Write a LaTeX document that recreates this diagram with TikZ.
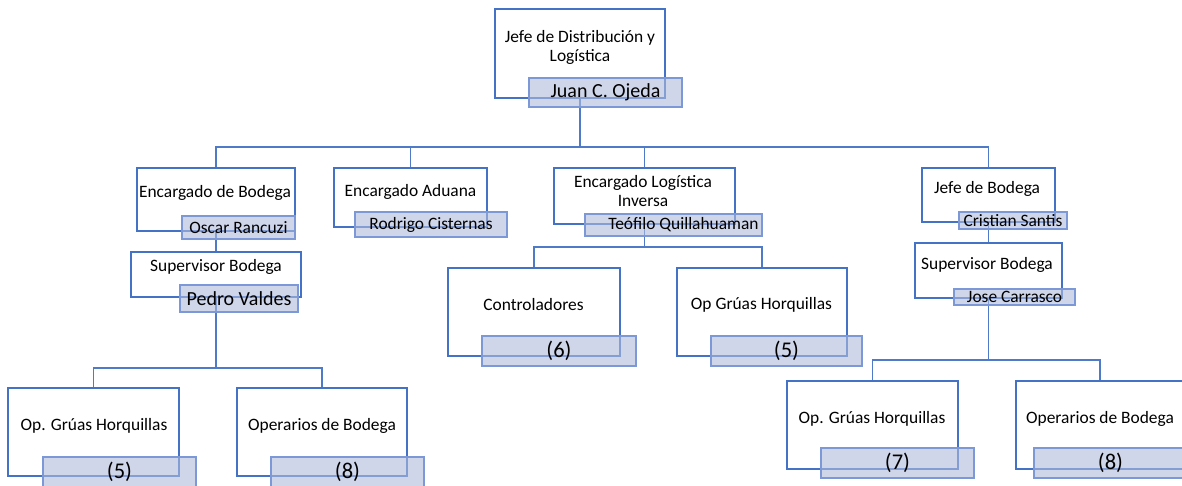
\documentclass[tikz,border=0pt]{standalone}
\usepackage{fontspec}
\setmainfont{Carlito}
\definecolor{boxblue}{HTML}{4472C4}
\definecolor{lineblue}{HTML}{4F7AC8}
\definecolor{tagblue}{HTML}{7D98D6}
\definecolor{tagfill}{HTML}{AFBBDC}
\begin{document}
\begin{tikzpicture}[x=1pt,y=-1pt]
	\tikzstyle{none}=[inner sep=0pt]
	\tikzstyle{box}=[draw=boxblue,fill=white,line width=2.400,inner sep=0pt]
	\tikzstyle{heading}=[inner sep=0pt,align=center,font=\fontsize{17.4}{19.5}\selectfont]
	\tikzstyle{tag}=[draw=tagblue,fill=tagfill,fill opacity=0.6,text opacity=1,line width=1.400,inner sep=0pt,font=\fontsize{17.4}{19.5}\selectfont]
	\tikzstyle{bigtag}=[style=tag,font=\fontsize{20}{24}\selectfont]
	\tikzstyle{counttag}=[style=tag,font=\fontsize{22.5}{26}\selectfont]
	\tikzstyle{link}=[-,draw=lineblue,line width=1.800]
	\useasboundingbox (0, 0) rectangle (1182, 485);
		\node [style=box, minimum width=170, minimum height=89] (0) at (580, 53.5) {};
		\node [style=heading] (1) at (580, 47.5) {Jefe de Distribución y\\Logística};
		\node [style=box, minimum width=158, minimum height=63] (2) at (216, 199.5) {};
		\node [style=heading] (3) at (215, 193) {Encargado de Bodega};
		\node [style=box, minimum width=153, minimum height=59] (4) at (410.5, 197.5) {};
		\node [style=heading] (5) at (410.5, 192) {Encargado Aduana};
		\node [style=box, minimum width=181, minimum height=56] (6) at (644.5, 196) {};
		\node [style=heading] (7) at (643, 191) {Encargado Logística\\Inversa};
		\node [style=box, minimum width=133, minimum height=54] (8) at (988.5, 195) {};
		\node [style=heading] (9) at (987, 189) {Jefe de Bodega};
		\node [style=box, minimum width=170, minimum height=45] (10) at (216, 274.5) {};
		\node [style=heading] (11) at (216, 267) {Supervisor Bodega};
		\node [style=box, minimum width=147, minimum height=55] (12) at (988.5, 270.5) {};
		\node [style=heading] (13) at (987, 265) {Supervisor Bodega};
		\node [style=box, minimum width=171, minimum height=88] (14) at (93.5, 432) {};
		\node [style=heading] (15) at (94, 426) {Op. Grúas Horquillas};
		\node [style=box, minimum width=170, minimum height=88] (16) at (322, 432) {};
		\node [style=heading] (17) at (322, 426) {Operarios de Bodega};
		\node [style=box, minimum width=172, minimum height=88] (18) at (534, 312) {};
		\node [style=heading] (19) at (533.5, 305) {Controladores};
		\node [style=box, minimum width=170, minimum height=88] (20) at (762, 312) {};
		\node [style=heading] (21) at (761.5, 305) {Op Grúas Horquillas};
		\node [style=box, minimum width=171, minimum height=88] (22) at (872.5, 425) {};
		\node [style=heading] (23) at (872, 419) {Op. Grúas Horquillas};
		\node [style=box, minimum width=168, minimum height=88] (24) at (1100, 425) {};
		\node [style=heading] (25) at (1100, 419) {Operarios de Bodega};
		\node [style=none] (26) at (580, 147) {};
		\node [style=none] (27) at (216, 368) {};
		\node [style=none] (28) at (644.5, 247) {};
		\node [style=none] (29) at (988.5, 360) {};

		\draw [style=link] (0.south) to (26.center);
		\draw [style=link] (26.center) -| (2.north);
		\draw [style=link] (26.center) -| (4.north);
		\draw [style=link] (26.center) -| (6.north);
		\draw [style=link] (26.center) -| (8.north);
		\draw [style=link] (2.south) to (10.north);
		\draw [style=link] (10.south) to (27.center);
		\draw [style=link] (27.center) -| (14.north);
		\draw [style=link] (27.center) -| (16.north);
		\draw [style=link] (6.south) to (28.center);
		\draw [style=link] (28.center) -| (18.north);
		\draw [style=link] (28.center) -| (20.north);
		\draw [style=link] (8.south) to (12.north);
		\draw [style=link] (12.south) to (29.center);
		\draw [style=link] (29.center) -| (22.north);
		\draw [style=link] (29.center) -| (24.north);

		\node [style=bigtag, minimum width=153, minimum height=29] (30) at (605.5, 92.5) {Juan C. Ojeda};
		\node [style=tag, minimum width=113, minimum height=23] (31) at (238.5, 227.5) {Oscar Rancuzi};
		\node [style=tag, minimum width=152, minimum height=25] (32) at (431, 224.5) {Rodrigo Cisternas};
		\node [style=tag, minimum width=177, minimum height=22] (33) at (673.5, 225) {\hspace*{20pt}Teófilo Quillahuaman};
		\node [style=tag, minimum width=108, minimum height=17] (34) at (1013, 220.5) {Cristian Santis};
		\node [style=bigtag, minimum width=118, minimum height=27] (35) at (239, 298.5) {Pedro Valdes};
		\node [style=tag, minimum width=121, minimum height=16] (36) at (1014.5, 297) {Jose Carrasco};
		\node [style=counttag, minimum width=153, minimum height=30] (37) at (119.5, 472) {(5)};
		\node [style=counttag, minimum width=153, minimum height=30] (38) at (347.5, 472) {(8)};
		\node [style=counttag, minimum width=154, minimum height=30] (39) at (559, 351) {(6)};
		\node [style=counttag, minimum width=151, minimum height=30] (40) at (786.5, 351) {(5)};
		\node [style=counttag, minimum width=153, minimum height=30] (41) at (897.5, 463) {(7)};
		\node [style=counttag, minimum width=153, minimum height=30] (42) at (1110.5, 463) {(8)};

\end{tikzpicture}
\end{document}
